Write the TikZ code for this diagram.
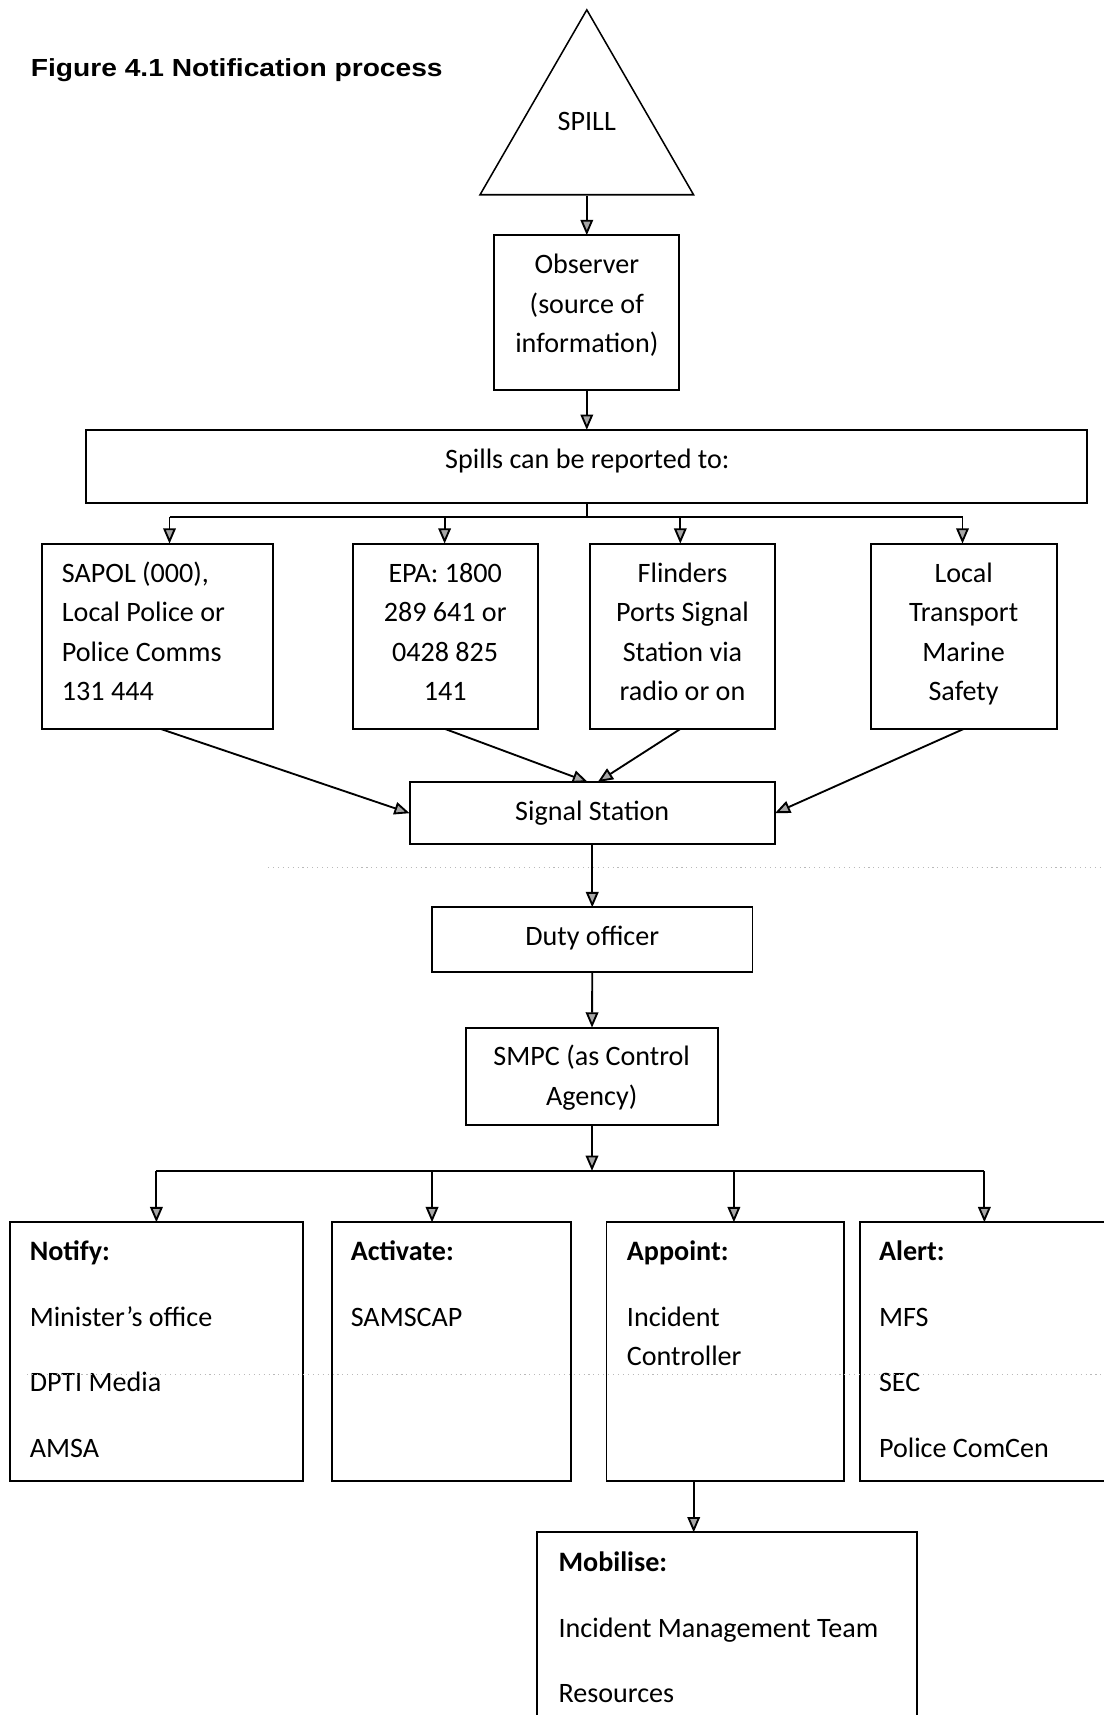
\documentclass[tikz,border=0pt]{standalone}
\usepackage{fontspec}
\usepackage{graphicx}
\setmainfont{Carlito}
\newfontfamily\headfont{Liberation Sans}
\usetikzlibrary{arrows.meta,shapes.geometric}

\newcommand\bodytext{\fontsize{25.7pt}{36pt}\selectfont}

\tikzset{
  panel/.style={draw, line width=1.8pt, rectangle, inner sep=0pt, outer sep=0pt, anchor=north west},
  wire/.style={line width=1.7pt},
  link/.style={wire, -{Triangle[length=14pt,width=11.5pt,fill=gray!70]}},
  boxtext/.style={font=\bodytext, inner sep=0pt, anchor=north, align=center},
  listtext/.style={font=\bodytext, inner sep=0pt, anchor=north west, align=left},
  artefact/.style={gray!55, line width=0.9pt, dash pattern=on 1pt off 3.5pt},
}

\begin{document}
\begin{tikzpicture}[x=1pt,y=-1pt]
\useasboundingbox (0,0) rectangle (1009,1568);

% heading
\node[anchor=base west, inner sep=0pt] (title) at (28,70)
  {\headfont\bfseries\fontsize{22.6pt}{26pt}\selectfont\scalebox{1.14}[1]{Figure 4.1 Notification process}};

% spill triangle
\node[draw, regular polygon, regular polygon sides=3, minimum size=225.4pt,
      inner sep=0pt, line width=1.4pt] (spill) at (536.5,121.7) {};
\node[boxtext] (spill-t) at (536.5,94.3) {\strut SPILL};

% boxes
\node[panel, minimum width=169pt, minimum height=142pt] (obs) at (452,215) {};
\node[panel, minimum width=915pt, minimum height=66.5pt] (rep) at (79,393) {};
\node[panel, minimum width=211pt, minimum height=169.5pt] (sapol) at (38.5,497) {};
\node[panel, minimum width=169pt, minimum height=169.5pt] (epa) at (322.5,497) {};
\node[panel, minimum width=170pt, minimum height=169.5pt] (fli) at (539,497) {};
\node[panel, minimum width=170pt, minimum height=169.5pt] (loc) at (796,497) {};
\node[panel, minimum width=334pt, minimum height=57pt] (sig) at (374.5,715) {};
\node[panel, minimum width=293pt, minimum height=59pt] (duty) at (395,829.5) {};
\node[panel, minimum width=230.5pt, minimum height=89.5pt] (smpc) at (426,939.5) {};
\node[panel, minimum width=268pt, minimum height=236.5pt] (notify) at (9,1117.5) {};
\node[panel, minimum width=218.5pt, minimum height=236.5pt] (activ) at (303.5,1117.5) {};
\node[panel, minimum width=217.5pt, minimum height=236.5pt] (appoint) at (554.5,1117.5) {};
\node[panel, minimum width=234pt, minimum height=236.5pt] (alert) at (786,1117.5) {};
\node[panel, minimum width=347.5pt, minimum height=219pt] (mob) at (491,1401) {};

% box texts
\node[boxtext] (obs-t) at (536.5,225) {\strut Observer\\(source of\\information)};
\node[boxtext] (rep-t) at (537,403) {\strut Spills can be reported to:};
\node[listtext] (sapol-t) at (56.4,507) {\strut SAPOL (000),\\Local Police or\\Police Comms\\131 444};
\node[boxtext] (epa-t) at (407,507) {\strut EPA: 1800\\289 641 or\\0428 825\\141};
\node[boxtext] (fli-t) at (624,507) {\strut Flinders\\Ports Signal\\Station via\\radio or on};
\node[boxtext] (loc-t) at (881,507) {\strut Local\\Transport\\Marine\\Safety};
\node[boxtext] (sig-t) at (541.5,725) {\strut Signal Station};
\node[boxtext] (duty-t) at (541.5,839) {\strut Duty officer};
\node[boxtext] (smpc-t) at (541,949) {\strut SMPC (as Control\\Agency)};
\node[listtext] (notify-t) at (27,1127) {\strut\textbf{Notify:}\\[24pt]Minister’s office\\[24pt]DPTI Media\\[24pt]AMSA};
\node[listtext] (activ-t) at (320.5,1127) {\strut\textbf{Activate:}\\[24pt]SAMSCAP};
\node[listtext] (appoint-t) at (573,1127) {\strut\textbf{Appoint:}\\[24pt]Incident\\Controller};
\node[listtext] (alert-t) at (803.5,1127) {\strut\textbf{Alert:}\\[24pt]MFS\\[24pt]SEC\\[24pt]Police ComCen};
\node[listtext] (mob-t) at (510.5,1411.5) {\strut\textbf{Mobilise:}\\[24pt]Incident Management Team\\[24pt]Resources};

% faint ruled lines running through the page
\draw[artefact] (245,793) -- (1009,793);
\draw[artefact] (25,1257) -- (1009,1257);

% top of the chain
\draw[link] (spill.south) -- (obs.north);
\draw[link] (obs.south) -- (rep.north);

% fan-out to the reporting contacts
\coordinate (r1) at (155,473);
\coordinate (r2) at (406.5,473);
\coordinate (r3) at (622,473);
\coordinate (r4) at (880,473);
\draw[wire] (rep.south) -- (rep.south |- r1);
\draw[wire] (r1) -- (r4);
\draw[link] (r1) -- (r1 |- sapol.north);
\draw[link] (r2) -- (r2 |- epa.north);
\draw[link] (r3) -- (r3 |- fli.north);
\draw[link] (r4) -- (r4 |- loc.north);

% contacts converge on the signal station
\draw[link] ([xshift=3pt]sapol.south) -- (sig.west);
\draw[link] (epa.south) -- ([xshift=-4pt]sig.north);
\draw[link] ([xshift=-2pt]fli.south) -- ([xshift=5pt]sig.north);
\draw[link] (loc.south) -- (sig.east);

\draw[link] (sig.south) -- (duty.north);
\draw[link] (duty.south) -- (smpc.north);

% fan-out from the control agency
\coordinate (c1) at (143,1070.5);
\coordinate (c2) at (395,1070.5);
\coordinate (c3) at (671,1070.5);
\coordinate (c4) at (900,1070.5);
\draw[link] (smpc.south) -- (smpc.south |- c1);
\draw[wire] (c1) -- (c4);
\draw[link] (c1) -- (c1 |- notify.north);
\draw[link] (c2) -- (c2 |- activ.north);
\draw[link] (c3) -- (c3 |- appoint.north);
\draw[link] (c4) -- (c4 |- alert.north);

% appointment leads to mobilisation
\coordinate (m0) at ([xshift=-29pt]appoint.south);
\draw[link] (m0) -- (m0 |- mob.north);
\end{tikzpicture}
\end{document}
